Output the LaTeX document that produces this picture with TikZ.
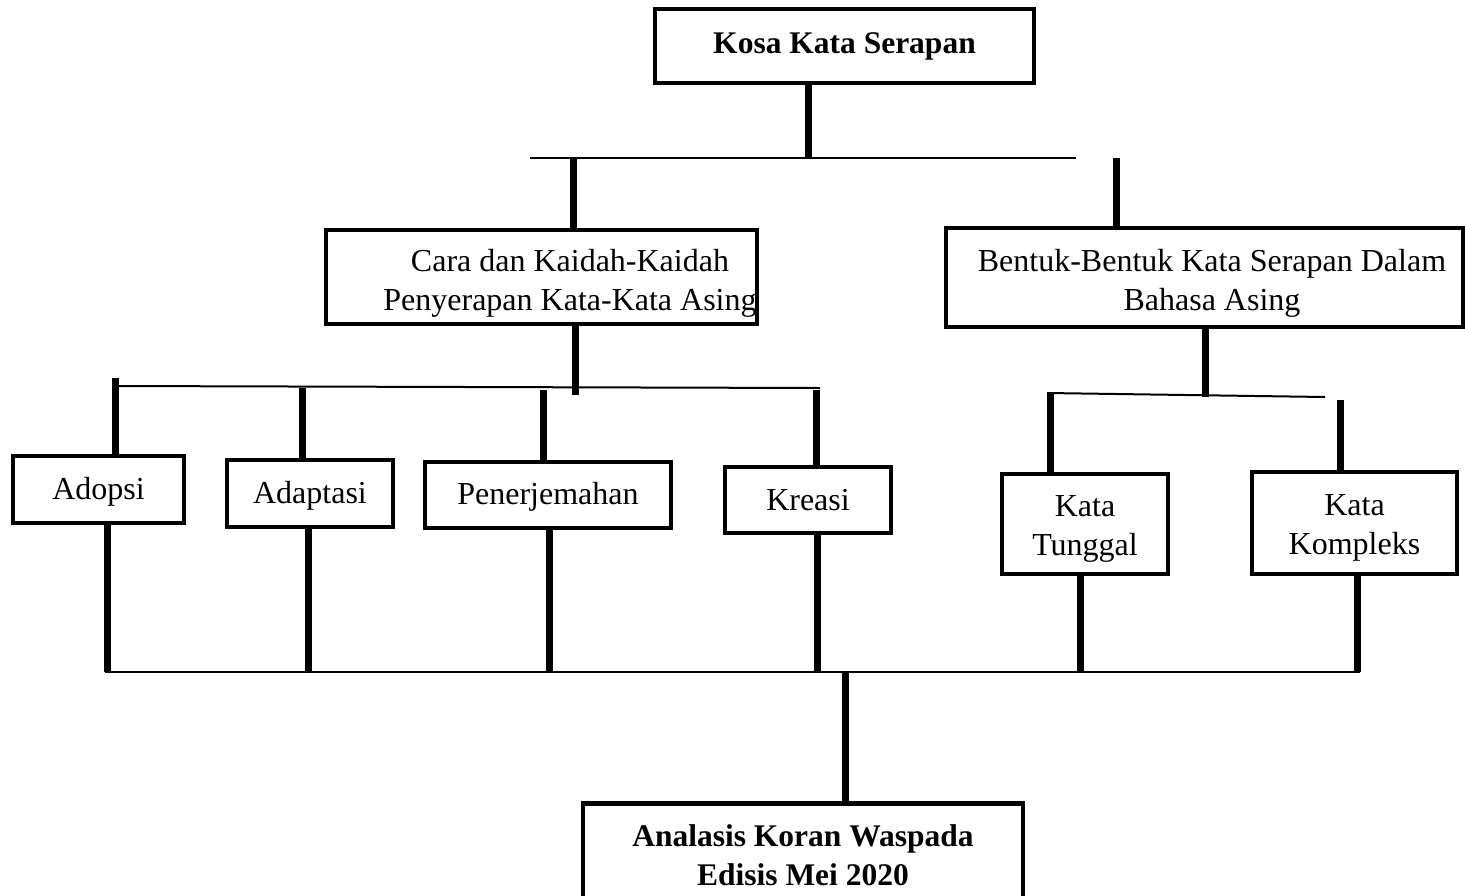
\documentclass[tikz,border=0pt]{standalone}
\usepackage{fontspec}
\setmainfont{Liberation Serif}
\begin{document}
\begin{tikzpicture}[x=1pt,y=-1pt,
  box/.style={draw, line width=4.5pt, inner sep=0pt, align=center,
    font=\fontsize{32}{39}\selectfont},
  bbox/.style={box, font=\fontsize{31.5}{39}\selectfont\bfseries},
  thickline/.style={line width=7pt},
  thinline/.style={line width=2pt}]
\useasboundingbox (0,0) rectangle (1465,895);
\fill[white] (0,0) rectangle (1465,895);

% boxes
\node[bbox, minimum width=379, minimum height=74] (top) at (844.5,46) {Kosa Kata Serapan};
\node[box, minimum width=431, minimum height=94] (cara) at (541.5,277)
  {\rule{0pt}{34pt}\hspace*{57pt}Cara dan Kaidah-Kaidah\\\hspace*{57pt}Penyerapan Kata-Kata Asing};
\node[box, minimum width=517, minimum height=99] (bentuk) at (1204.5,277.5)
  {\rule{0pt}{34pt}\hspace*{15pt}Bentuk-Bentuk Kata Serapan Dalam\\\hspace*{15pt}Bahasa Asing};
\node[box, minimum width=171, minimum height=67] (adopsi) at (98.5,489.5) {\rule{0pt}{26pt}Adopsi};
\node[box, minimum width=166, minimum height=67] (adaptasi) at (310,493.5) {\rule{0pt}{26pt}Adaptasi};
\node[box, minimum width=246, minimum height=66] (pener) at (548,495) {\rule{0pt}{26pt}Penerjemahan};
\node[box, minimum width=166, minimum height=66] (kreasi) at (808,500) {Kreasi};
\node[box, minimum width=166, minimum height=100] (tunggal) at (1085,524) {\rule{0pt}{30pt}Kata\\Tunggal};
\node[box, minimum width=205, minimum height=102] (kompleks) at (1354.5,523) {\rule{0pt}{30pt}Kata\\Kompleks};
\node[bbox, minimum width=440, minimum height=104, anchor=north] (analisis) at (803,801)
  {Analasis Koran Waspada\\Edisis Mei 2020};

% junction coordinates
\coordinate (j0) at (808,158);
\coordinate (b1l) at (530,158);
\coordinate (b1r) at (1076,158);
\coordinate (j1a) at (573,158);
\coordinate (j1b) at (1116,158);
\coordinate (j2) at (575,395);
\coordinate (b2l) at (115,386);
\coordinate (b2r) at (820,388);
\coordinate (j2a) at (115,378);
\coordinate (j2b) at (302,388);
\coordinate (j2c) at (543,390);
\coordinate (j2d) at (816,390);
\coordinate (j3) at (1205,397);
\coordinate (b3l) at (1047,393);
\coordinate (b3r) at (1325,397);
\coordinate (j3a) at (1050,393);
\coordinate (j3b) at (1340,400);
\coordinate (b4l) at (105,672);
\coordinate (b4r) at (1360,672);
\coordinate (k1) at (107,672);
\coordinate (k2) at (308,672);
\coordinate (k3) at (549,672);
\coordinate (k4) at (817,672);
\coordinate (k5) at (1080,672);
\coordinate (k6) at (1357,672);
\coordinate (k7) at (845,672);

% buses
\draw[thinline] (b1l) -- (b1r);
\draw[thinline] (b2l) -- (b2r);
\draw[thinline] (b3l) -- (b3r);
\draw[thinline] (b4l) -- (b4r);

% thick connectors
\draw[thickline] (top.south -| j0) -- (j0);
\draw[thickline] (j1a) -- (cara.north -| j1a);
\draw[thickline] (j1b) -- (bentuk.north -| j1b);
\draw[thickline] (cara.south -| j2) -- (j2);
\draw[thickline] (j2a) -- (adopsi.north -| j2a);
\draw[thickline] (j2b) -- (adaptasi.north -| j2b);
\draw[thickline] (j2c) -- (pener.north -| j2c);
\draw[thickline] (j2d) -- (kreasi.north -| j2d);
\draw[thickline] (bentuk.south -| j3) -- (j3);
\draw[thickline] (j3a) -- (tunggal.north -| j3a);
\draw[thickline] (j3b) -- (kompleks.north -| j3b);
\draw[thickline] (adopsi.south -| k1) -- (k1);
\draw[thickline] (adaptasi.south -| k2) -- (k2);
\draw[thickline] (pener.south -| k3) -- (k3);
\draw[thickline] (kreasi.south -| k4) -- (k4);
\draw[thickline] (tunggal.south -| k5) -- (k5);
\draw[thickline] (kompleks.south -| k6) -- (k6);
\draw[thickline] (k7) -- (analisis.north -| k7);
\end{tikzpicture}
\end{document}
